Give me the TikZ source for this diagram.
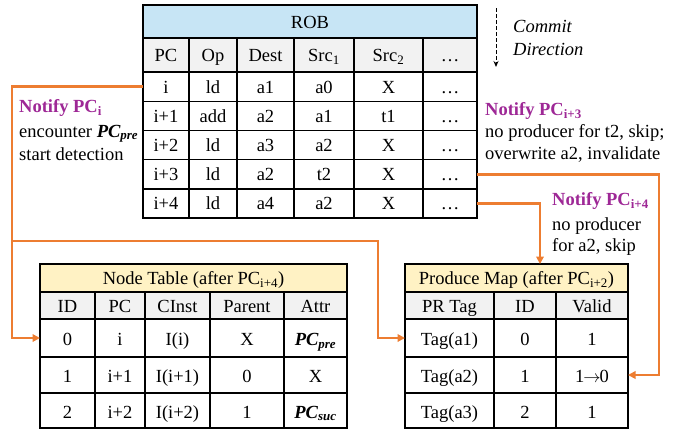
\documentclass[tikz,border=0pt]{standalone}
\usepackage{fontspec}
\setmainfont{Liberation Serif}
\usetikzlibrary{arrows.meta}

\definecolor{robblue}{RGB}{199,229,245}
\definecolor{hdrgray}{RGB}{242,242,242}
\definecolor{tblyellow}{RGB}{255,242,196}
\definecolor{linkorange}{RGB}{237,125,49}
\definecolor{notepurple}{RGB}{158,40,150}

% one table cell spanning (x1,y1)-(x2,y2): name, x1, y1, x2, y2, fill, text
\def\tcth{13.5pt}
\newcommand\tcell[7]{%
  \pgfmathsetmacro\tcw{#4-#2}\pgfmathsetmacro\tch{#5-#3}%
  \node[cellbox,fill=#6,minimum width=\tcw pt,minimum height=\tch pt] (#1)
    at ({(#2+#4)/2},{(#3+#5)/2}) {#7};}

\def\rowfill{white}
% ROB row: name, y1, y2, six entries
\newcommand\robrow[9]{%
  \tcell{#1-1}{143}{#2}{189}{#3}{\rowfill}{#4}%
  \tcell{#1-2}{189}{#2}{237}{#3}{\rowfill}{#5}%
  \tcell{#1-3}{237}{#2}{294}{#3}{\rowfill}{#6}%
  \tcell{#1-4}{294}{#2}{354}{#3}{\rowfill}{#7}%
  \tcell{#1-5}{354}{#2}{423}{#3}{\rowfill}{#8}%
  \tcell{#1-6}{423}{#2}{477}{#3}{\rowfill}{#9}}
% node table row: name, y1, y2, five entries
\newcommand\ntrow[8]{%
  \tcell{#1-1}{40}{#2}{95}{#3}{\rowfill}{#4}%
  \tcell{#1-2}{95}{#2}{145}{#3}{\rowfill}{#5}%
  \tcell{#1-3}{145}{#2}{210}{#3}{\rowfill}{#6}%
  \tcell{#1-4}{210}{#2}{284}{#3}{\rowfill}{#7}%
  \tcell{#1-5}{284}{#2}{347}{#3}{\rowfill}{#8}}
% produce map row: name, y1, y2, three entries
\newcommand\pmrow[6]{%
  \tcell{#1-1}{405}{#2}{494}{#3}{\rowfill}{#4}%
  \tcell{#1-2}{494}{#2}{556}{#3}{\rowfill}{#5}%
  \tcell{#1-3}{556}{#2}{628}{#3}{\rowfill}{#6}}

\newcommand\bipc[1]{\textbf{\textit{PC\textsubscript{#1}}}}
\newcommand\notify[1]{\textbf{\color{notepurple}Notify PC\textsubscript{#1}}}

\begin{document}
\begin{tikzpicture}[x=1pt,y=-1pt,
  font=\fontsize{18.5}{22}\selectfont,
  cellbox/.style={draw=black,line width=1.4pt,inner sep=0pt,outer sep=0pt,
    text height=\tcth,text depth=0.5pt,anchor=center},
  note/.style={inner sep=0pt,anchor=base west},
  conn/.style={draw=linkorange,line width=2.6pt,
    -{Triangle[length=7.5pt,width=7.5pt]}}]
\useasboundingbox (0,0) rectangle (694,432);

% ---- ROB ----
\tcell{robh}{143}{5}{477}{38}{robblue}{ROB}
\def\rowfill{hdrgray}
\robrow{robc}{38}{72}{PC}{Op}{Dest}{Src\textsubscript{1}}{Src\textsubscript{2}}{…}
\def\rowfill{white}
\robrow{rob1}{72}{101.2}{i}{ld}{a1}{a0}{X}{…}
\robrow{rob2}{101.2}{130.4}{i+1}{add}{a2}{a1}{t1}{…}
\robrow{rob3}{130.4}{159.6}{i+2}{ld}{a3}{a2}{X}{…}
\robrow{rob4}{159.6}{188.8}{i+3}{ld}{a2}{t2}{X}{…}
\robrow{rob5}{188.8}{218}{i+4}{ld}{a4}{a2}{X}{…}

% ---- Node Table ----
\tcell{nth}{40}{264}{347}{292}{tblyellow}{Node Table (after PC\textsubscript{i+4})}
\def\rowfill{hdrgray}
\ntrow{ntc}{292}{319}{ID}{PC}{CInst}{Parent}{Attr}
\def\rowfill{white}
\def\tcth{15.5pt}
\ntrow{nt0}{319}{357}{0}{i}{I(i)}{X}{\bipc{pre}}
\ntrow{nt1}{357}{393}{1}{i+1}{I(i+1)}{0}{X}
\ntrow{nt2}{393}{428}{2}{i+2}{I(i+2)}{1}{\bipc{suc}}

% ---- Produce Map ----
\def\tcth{13.5pt}
\tcell{pmh}{405}{264}{628}{292}{tblyellow}{Produce Map (after PC\textsubscript{i+2})}
\def\rowfill{hdrgray}
\pmrow{pmc}{292}{319}{PR Tag}{ID}{Valid}
\def\rowfill{white}
\def\tcth{15.5pt}
\pmrow{pm1}{319}{357}{Tag(a1)}{0}{1}
\pmrow{pm2}{357}{393}{Tag(a2)}{1}{1\kern-1pt$\rightarrow$\kern-1pt0}
\pmrow{pm3}{393}{428}{Tag(a3)}{2}{1}

% ---- commit direction ----
\coordinate (cdtop) at (496,8);
\coordinate (cdbot) at (496,67);
\draw[line width=1pt,dash pattern=on 3.5pt off 2.5pt,-{Stealth[length=6pt,width=5pt]}] (cdtop) -- (cdbot);
\node[note] (cd1) at (513,32) {\textit{Commit}};
\node[note] (cd2) at (513,55) {\textit{Direction}};

% ---- notes ----
\node[note] (na1) at (19,112) {\notify{i}};
\node[note] (na2) at (19,137) {encounter \bipc{pre}};
\node[note] (na3) at (19,160) {start detection};

\node[note] (nb1) at (485,115) {\notify{i+3}};
\node[note] (nb2) at (485,137) {no producer for t2, skip;};
\node[note] (nb3) at (485,159) {overwrite a2, invalidate};

\node[note] (nc1) at (552,205) {\notify{i+4}};
\node[note] (nc2) at (552,230) {no producer};
\node[note] (nc3) at (552,251) {for a2, skip};

% ---- connectors ----
\coordinate (jl) at (12,241);
\coordinate (jm) at (378,241);
\coordinate (jr) at (659,0);
\coordinate (jd) at (540,0);
\draw[conn] (rob1-1.west) -- (rob1-1.west -| jl) -- (jl |- nt0-1.west) -- (nt0-1.west);
\draw[conn] (jl) -- (jm) -- (jm |- pm1-1.west) -- (pm1-1.west);
\draw[conn] (rob4-6.east) -- (rob4-6.east -| jr) -- (jr |- pm2-3.east) -- (pm2-3.east);
\draw[conn] (rob5-6.east) -- (rob5-6.east -| jd) -- (jd |- pmh.north);
\end{tikzpicture}
\end{document}
